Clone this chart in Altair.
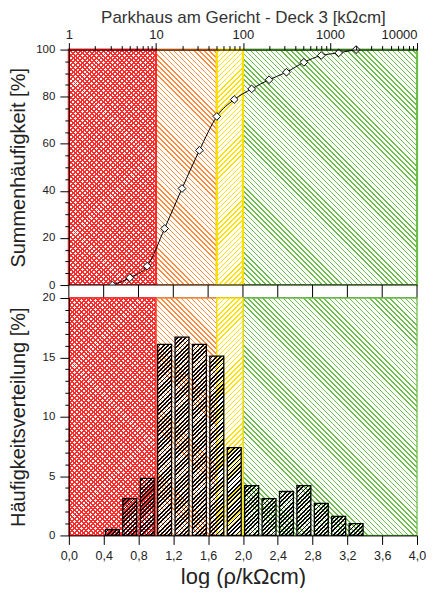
import altair as alt
import numpy as np
import pandas as pd

# ---------------- data ----------------
zone_start = [0.0, 1.0, 1.7, 2.0]
zone_end = [1.0, 1.7, 2.0, 4.0]
zone_color = ["#ff2a2a", "#ff8c3c", "#ffe000", "#6cc04a"]
zone_hatch = ["x", "\\", "/", "\\"]

bin_start = [0.4, 0.6, 0.8, 1.0, 1.2, 1.4, 1.6, 1.8, 2.0, 2.2, 2.4, 2.6, 2.8, 3.0, 3.2]
bin_end = [0.6, 0.8, 1.0, 1.2, 1.4, 1.6, 1.8, 2.0, 2.2, 2.4, 2.6, 2.8, 3.0, 3.2, 3.4]
bin_pct = [0.5, 3.1, 4.8, 16.1, 16.7, 16.1, 15.1, 7.4, 4.2, 3.1, 3.7, 4.2, 2.7, 1.6, 1.0]

cum_x = [0.5, 0.7, 0.9, 1.1, 1.3, 1.5, 1.7, 1.9, 2.1, 2.3, 2.5, 2.7, 2.9, 3.1, 3.3]
cum_pct = [0.0, 3.1, 8.0, 24.0, 41.0, 57.2, 71.6, 78.8, 83.3, 87.2, 90.4, 94.6, 97.5, 98.6, 100.0]

top_decades = [1, 10, 100, 1000, 10000]
bottom_ticks = [0.0, 0.4, 0.8, 1.2, 1.6, 2.0, 2.4, 2.8, 3.2, 3.6, 4.0]

# ---------------- layout ----------------
PW = 349
TOP_H = 236
STRIP_H = 13
BOT_H = 238
XMAX = 4.0
BAR_GAP = 0.02

LABEL_FONT = "Liberation Sans Narrow, Liberation Sans, Arial, sans-serif"
TITLE_FONT = "Liberation Sans, Arial, sans-serif"
TXT = "#222222"
CLEAR = "rgba(255,255,255,0)"


def hatch(color, direction, w, h, spacing=3.6, lw=1.1, bg=CLEAR):
    L = (w + h) / np.sqrt(2)
    k = (w + h) / (w * w + h * h)
    if direction == "\\":
        x1, y1, x2, y2 = 0.0, 1.0, k * w, 1.0 - k * h
    else:
        x1, y1, x2, y2 = 0.0, 0.0, k * w, k * h
    stops = [{"offset": 0.0, "color": bg}]
    f = lw / L
    i = 0
    while True:
        t0 = (i + 0.5) * spacing / L
        t1 = t0 + f
        if t1 >= 1:
            break
        stops += [
            {"offset": round(t0, 5), "color": bg},
            {"offset": round(t0, 5), "color": color},
            {"offset": round(t1, 5), "color": color},
            {"offset": round(t1, 5), "color": bg},
        ]
        i += 1
    stops.append({"offset": 1.0, "color": bg})
    return {"gradient": "linear", "x1": round(x1, 5), "y1": round(y1, 5),
            "x2": round(x2, 5), "y2": round(y2, 5), "stops": stops}


xscale = alt.Scale(domain=[0, XMAX], nice=False, zero=False)

top_tick_vals = []
for d in top_decades[:-1]:
    for m in range(1, 10):
        top_tick_vals.append(round(float(np.log10(m * d)), 5))
top_tick_vals.append(round(float(np.log10(top_decades[-1])), 5))

top_xaxis = alt.Axis(
    orient="top", values=top_tick_vals, grid=False,
    title="Parkhaus am Gericht - Deck 3 [kΩcm]",
    labelExpr="datum.value % 1 == 0 ? format(pow(10, datum.value), 'd') : ''",
    tickSize={"condition": {"test": "datum.value % 1 == 0", "value": 7}, "value": 4},
    labelAlign={"condition": {"test": "datum.value >= 4", "value": "right"}, "value": "center"},
    labelFlush=False, labelOverlap=False, labelPadding=1,
    labelFont=LABEL_FONT, labelFontSize=13, labelColor=TXT,
    titleFont=TITLE_FONT, titleFontSize=17, titleFontWeight="normal", titleColor="#333333",
    titleY=-27, titleBaseline="alphabetic",
    domainColor="black", tickColor="black", zindex=1,
)
bot_xaxis = alt.Axis(
    orient="bottom", values=bottom_ticks, grid=False, title="log (ρ/kΩcm)",
    labelExpr="replace(format(datum.value, '.1f'), '.', ',')",
    tickSize=9, labelFlush=False, labelOverlap=False, labelPadding=5,
    labelFont=LABEL_FONT, labelFontSize=12.5, labelColor=TXT,
    titleFont=TITLE_FONT, titleFontSize=22, titleFontWeight="normal", titleColor=TXT,
    titleY=48, titleBaseline="alphabetic",
    domainColor="black", tickColor="black", zindex=1,
)


def yaxis(title, step, major, top, h):
    return alt.Axis(
        orient="left", values=list(range(0, top + 1, step)), grid=False, title=title,
        labelExpr=f"datum.value % {major} == 0 ? datum.value : ''",
        tickSize={"condition": {"test": f"datum.value % {major} == 0", "value": 9}, "value": 4},
        labelOverlap=False, labelPadding=5,
        labelFont=LABEL_FONT, labelFontSize=11.5, labelColor=TXT,
        titleFont=TITLE_FONT, titleFontSize=20, titleFontWeight="normal", titleColor=TXT,
        titleX=-50, titleY=h / 2, titleAngle=270, titleAlign="center", titleBaseline="middle",
        domainColor="black", tickColor="black", zindex=1,
    )


top_yaxis = yaxis("Summenhäufigkeit [%]", 5, 20, 100, TOP_H)
bot_yaxis = yaxis("Häufigkeitsverteilung [%]", 1, 5, 20, BOT_H)


def zone_layers(h, xaxis, sw):
    layers = []
    order = [3, 1, 2, 0]
    for i in order:
        df = pd.DataFrame({"z0": [zone_start[i]], "z1": [zone_end[i]]})
        w = (zone_end[i] - zone_start[i]) / XMAX * PW
        c = zone_color[i]
        if zone_hatch[i] == "x":
            base = alt.Chart(df).mark_rect(
                fill=hatch(c, "\\", w, h, spacing=3.3, lw=1.4, bg="#ffffff"),
                stroke=c, strokeWidth=sw)
            layers.append(base.encode(x=alt.X("z0:Q", scale=xscale, axis=xaxis), x2="z1:Q"))
            over = alt.Chart(df).mark_rect(fill=hatch(c, "/", w, h, spacing=3.3, lw=1.4))
            layers.append(over.encode(x=alt.X("z0:Q", scale=xscale, axis=xaxis), x2="z1:Q"))
        else:
            base = alt.Chart(df).mark_rect(
                fill=hatch(c, zone_hatch[i], w, h, spacing=3.6, lw=1.0, bg="#ffffff"),
                stroke=c, strokeWidth=sw)
            layers.append(base.encode(x=alt.X("z0:Q", scale=xscale, axis=xaxis), x2="z1:Q"))
    return layers


# ---------------- top panel ----------------
cum_df = pd.DataFrame({"cx": cum_x, "cp": cum_pct})
top_y = alt.Y("cp:Q", scale=alt.Scale(domain=[0, 100], nice=False), axis=top_yaxis)

top_layers = zone_layers(TOP_H, top_xaxis, 2.2)
top_layers.append(
    alt.Chart(cum_df).mark_line(color="black", strokeWidth=1, interpolate="monotone").encode(
        x=alt.X("cx:Q", scale=xscale, axis=top_xaxis), y=top_y)
)
top_layers.append(
    alt.Chart(cum_df).mark_point(shape="diamond", filled=True, fill="white", stroke="black",
                                 strokeWidth=1, size=60, opacity=1).encode(
        x=alt.X("cx:Q", scale=xscale, axis=top_xaxis), y=top_y)
)
top = alt.layer(*top_layers).properties(width=PW, height=TOP_H)

# ---------------- strip ----------------
strip_box = pd.DataFrame({"s0": [0.0], "s1": [XMAX]})
strip_div = pd.DataFrame({"t": bottom_ticks[1:-1]})
strip = alt.layer(
    alt.Chart(strip_box).mark_rect(fill="white", stroke="black", strokeWidth=1).encode(
        x=alt.X("s0:Q", scale=xscale, axis=None), x2="s1:Q"),
    alt.Chart(strip_div).mark_rule(color="black", strokeWidth=1).encode(
        x=alt.X("t:Q", scale=xscale, axis=None)),
).properties(width=PW, height=STRIP_H)

# ---------------- bottom panel ----------------
bot_scale_y = alt.Scale(domain=[0, 20], nice=False)
bot_layers = zone_layers(BOT_H, bot_xaxis, 1.3)
for i in range(len(bin_pct)):
    df = pd.DataFrame({"b0": [bin_start[i] + BAR_GAP], "b1": [bin_end[i] - BAR_GAP],
                       "bp": [bin_pct[i]]})
    w = (bin_end[i] - bin_start[i] - 2 * BAR_GAP) / XMAX * PW
    h = bin_pct[i] / 20 * BOT_H
    bot_layers.append(
        alt.Chart(df).mark_rect(fill=hatch("#000000", "/", w, h, spacing=3.0, lw=1.3),
                                stroke="black", strokeWidth=1.3).encode(
            x=alt.X("b0:Q", scale=xscale, axis=bot_xaxis), x2="b1:Q",
            y=alt.Y("bp:Q", scale=bot_scale_y, axis=bot_yaxis), y2=alt.datum(0))
    )
bottom = alt.layer(*bot_layers).properties(width=PW, height=BOT_H)

chart = alt.vconcat(top, strip, bottom, spacing=0, bounds="flush").properties(
    padding={"left": 0, "top": 0, "right": 0, "bottom": 0}
).configure_view(stroke=None)

chart.save("out.html", embed_options={"renderer": "svg", "actions": False})
